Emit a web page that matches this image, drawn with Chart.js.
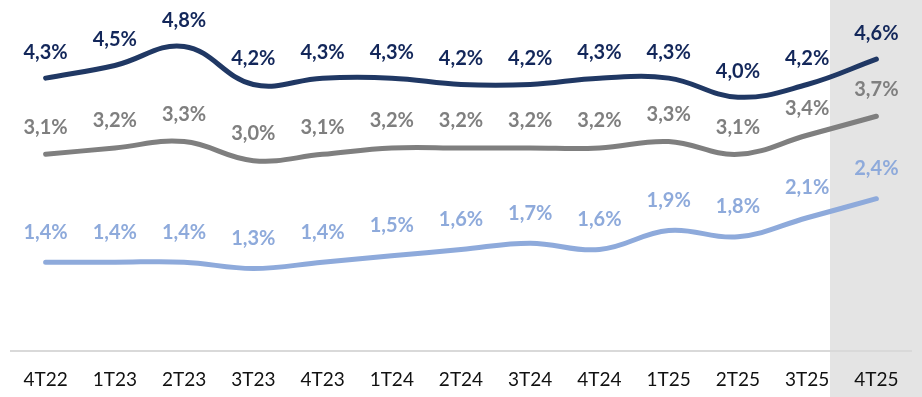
<!DOCTYPE html>
<html>
<head>
<meta charset="utf-8">
<script src="https://cdn.jsdelivr.net/npm/chart.js@4/dist/chart.umd.min.js"></script>
<style>
  html, body { margin: 0; padding: 0; background: #fff; }
  #wrap { width: 922px; height: 397px; position: relative; }
</style>
</head>
<body>
<div id="wrap"><canvas id="chart"></canvas></div>
<script>
// Quarters
const quarters = ['4T22', '1T23', '2T23', '3T23', '4T23', '1T24', '2T24', '3T24', '4T24', '1T25', '2T25', '3T25', '4T25'];

// Series (%)
const topSeries = [4.3, 4.5, 4.8, 4.2, 4.3, 4.3, 4.2, 4.2, 4.3, 4.3, 4.0, 4.2, 4.6];
const midSeries = [3.1, 3.2, 3.3, 3.0, 3.1, 3.2, 3.2, 3.2, 3.2, 3.3, 3.1, 3.4, 3.7];
const lowSeries = [1.4, 1.4, 1.4, 1.3, 1.4, 1.5, 1.6, 1.7, 1.6, 1.9, 1.8, 2.1, 2.4];

const NAVY = '#203864';
const GRAY = '#7f7f7f';
const LIGHT = '#8eaadb';
const FONT = 'Lato, "Open Sans", sans-serif';

// grey band behind the last quarter
const shadePlugin = {
    id: 'shade',
    beforeDraw(chart) {
        const x = chart.scales.x;
        const step = x.getPixelForValue(1) - x.getPixelForValue(0);
        const left = x.getPixelForValue(quarters.length - 1) - step * 0.67;
        const ctx = chart.ctx;
        ctx.save();
        ctx.fillStyle = '#e4e4e4';
        ctx.fillRect(left, 0, chart.width - left, chart.height);
        ctx.restore();
    }
};

// value labels above each point
const labelPlugin = {
    id: 'valueLabels',
    afterDatasetsDraw(chart) {
        const ctx = chart.ctx;
        ctx.save();
        ctx.font = 'bold 20px ' + FONT;
        ctx.textAlign = 'center';
        ctx.textBaseline = 'middle';
        chart.data.datasets.forEach((ds, i) => {
            const meta = chart.getDatasetMeta(i);
            ctx.fillStyle = ds.labelColor;
            meta.data.forEach((pt, j) => {
                const txt = ds.data[j].toFixed(1).replace('.', ',') + '%';
                ctx.fillText(txt, pt.x, pt.y - ds.labelOffset);
            });
        });
        ctx.restore();
    }
};

function line(data, color, labelColor, offset) {
    return {
        data,
        borderColor: color,
        borderWidth: 5,
        pointRadius: 0,
        tension: 0.4,
        borderCapStyle: 'round',
        fill: false,
        labelColor,
        labelOffset: offset
    };
}

new Chart(document.getElementById('chart'), {
    type: 'line',
    data: {
        labels: quarters,
        datasets: [
            line(topSeries, NAVY, '#13275a', 26),
            line(midSeries, GRAY, GRAY, 27),
            line(lowSeries, LIGHT, LIGHT, 30)
        ]
    },
    options: {
        responsive: true,
        maintainAspectRatio: false,
        animation: false,
        layout: { padding: { left: 11, right: 11, top: 2, bottom: 0 } },
        plugins: { legend: { display: false }, tooltip: { enabled: false } },
        scales: {
            x: {
                offset: true,
                grid: { display: false },
                border: { color: '#d9d9d9', width: 2 },
                ticks: { color: '#111', font: { family: FONT, size: 19 }, padding: 9, maxRotation: 0 },
                afterFit(scale) { scale.height = 46; }
            },
            y: { display: false, min: 0, max: 5.5 }
        }
    },
    plugins: [shadePlugin, labelPlugin]
});
</script>
</body>
</html>
